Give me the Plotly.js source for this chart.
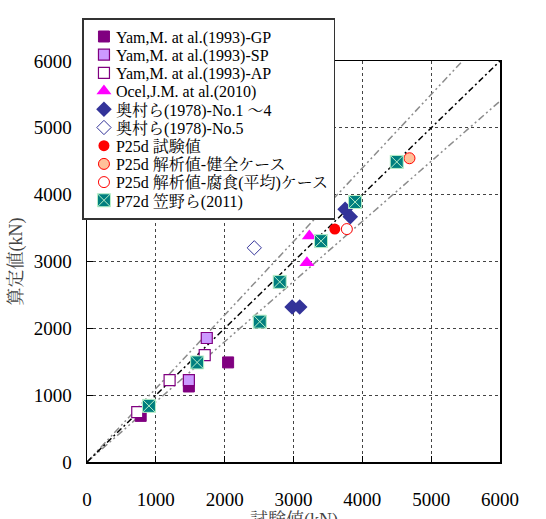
<!DOCTYPE html>
<html>
<head>
<meta charset="utf-8">
<script src="https://cdn.plot.ly/plotly-3.0.1.min.js"></script>
<style>html,body{margin:0;padding:0;background:#fff;}#chart{width:546px;height:519px;}</style>
</head>
<body>
<div id="chart"></div>
<script>
// Reference lines (1:1 and ±10%)
const lineEqX = [0, 6000], lineEqY = [0, 6000];
const lineUpX = [0, 5455], lineUpY = [0, 6000];
const lineLoX = [0, 6000], lineLoY = [0, 5400];

// Series: [test value, calculated value] in kN
const gpX = [780, 1480, 2050];
const gpY = [690, 1130, 1490];
const spX = [1480, 1740];
const spY = [1225, 1855];
const apX = [730, 1200, 1710];
const apY = [745, 1225, 1600];
const ocelX = [3230, 3195];
const ocelY = [3380, 2980];
const oku14X = [2980, 3090, 3750, 3825];
const oku14Y = [2320, 2320, 3780, 3670];
const oku5X = [2430];
const oku5Y = [3205];
const p25TestX = [3600];
const p25TestY = [3485];
const p25SoundX = [4685];
const p25SoundY = [4545];
const p25CorrX = [3775];
const p25CorrY = [3485];
const p72X = [900, 1600, 2510, 2800, 3400, 3895, 4500];
const p72Y = [840, 1490, 2100, 2695, 3305, 3890, 4490];

const names = [
  'Yam,M. at al.(1993)-GP',
  'Yam,M. at al.(1993)-SP',
  'Yam,M. at al.(1993)-AP',
  'Ocel,J.M. at al.(2010)',
  '奥村ら(1978)-No.1 ～4',
  '奥村ら(1978)-No.5',
  'P25d 試験値',
  'P25d 解析値-健全ケース',
  'P25d 解析値-腐食(平均)ケース',
  'P72d 笠野ら(2011)'
];
const xTitle = '試験値(kN)';
const yTitle = '算定値(kN)';

const serif = "Liberation Serif, Noto Serif CJK JP, Noto Sans CJK JP, serif";

const traces = [
  {x: lineUpX, y: lineUpY, mode: 'lines', showlegend: false, hoverinfo: 'skip',
   line: {color: '#8c8c8c', width: 1.5, dash: '7px,3px,2px,3px,2px,3px'}},
  {x: lineLoX, y: lineLoY, mode: 'lines', showlegend: false, hoverinfo: 'skip',
   line: {color: '#8c8c8c', width: 1.5, dash: '7px,3px,2px,3px,2px,3px'}},
  {x: lineEqX, y: lineEqY, mode: 'lines', showlegend: false, hoverinfo: 'skip',
   line: {color: '#000000', width: 1.5, dash: '6px,3px,2px,3px'}},
  {x: gpX, y: gpY, name: names[0], mode: 'markers',
   marker: {symbol: 'square', size: 11, color: '#800080', line: {color: '#800080', width: 1}}},
  {x: spX, y: spY, name: names[1], mode: 'markers',
   marker: {symbol: 'square', size: 11, color: '#cc99ff', line: {color: '#800080', width: 1.2}}},
  {x: apX, y: apY, name: names[2], mode: 'markers',
   marker: {symbol: 'square', size: 11, color: '#ffffff', line: {color: '#800080', width: 1.2}}},
  {x: ocelX, y: ocelY, name: names[3], mode: 'markers',
   marker: {symbol: 'triangle-up', size: 13, color: '#ff00ff', line: {width: 0}}},
  {x: oku14X, y: oku14Y, name: names[4], mode: 'markers',
   marker: {symbol: 'diamond', size: 12, color: '#333399', line: {width: 0}}},
  {x: oku5X, y: oku5Y, name: names[5], mode: 'markers',
   marker: {symbol: 'diamond', size: 11, color: '#ffffff', line: {color: '#333399', width: 1}}},
  {x: p25TestX, y: p25TestY, name: names[6], mode: 'markers',
   marker: {symbol: 'circle', size: 11, color: '#ff0000', line: {width: 0}}},
  {x: p25SoundX, y: p25SoundY, name: names[7], mode: 'markers',
   marker: {symbol: 'circle', size: 11, color: '#ffc09a', line: {color: '#ff0000', width: 1}}},
  {x: p25CorrX, y: p25CorrY, name: names[8], mode: 'markers',
   marker: {symbol: 'circle', size: 11, color: '#ffffff', line: {color: '#ff0000', width: 1}}},
  {x: p72X, y: p72Y, name: names[9], mode: 'markers',
   marker: {symbol: 'square-x', size: 13, color: '#007f7f', line: {color: '#b8f0c8', width: 1}}}
];

const axisCommon = {
  range: [0, 6000], dtick: 1000, tick0: 0,
  showline: true, linecolor: '#000', linewidth: 1.5, mirror: true,
  ticks: 'inside', ticklen: 6, tickcolor: '#000', tickwidth: 1,
  showgrid: true, gridcolor: '#444', griddash: 'dot', gridwidth: 1,
  zeroline: false,
  tickfont: {family: serif, size: 19, color: '#000'}
};

const layout = {
  width: 546, height: 519,
  margin: {l: 87, r: 46, t: 61, b: 57},
  paper_bgcolor: '#fff', plot_bgcolor: '#fff',
  xaxis: Object.assign({}, axisCommon, {
    ticklabelstandoff: 20
  }),
  yaxis: Object.assign({}, axisCommon, {
    ticklabelstandoff: 10,
    title: {text: yTitle, font: {family: serif, size: 18, color: '#444'}, standoff: 6}
  }),
  annotations: [{
    text: xTitle, xref: 'paper', yref: 'paper', x: 0.5, y: -0.115,
    xanchor: 'center', yanchor: 'top', showarrow: false,
    font: {family: serif, size: 18, color: '#444'}
  }],
  legend: {
    x: -0.011, y: 1.107, xanchor: 'left', yanchor: 'top',
    bgcolor: '#fff', bordercolor: '#333', borderwidth: 1.5,
    font: {family: serif, size: 16, color: '#000'},
    traceorder: 'normal'
  },
  showlegend: true
};

Plotly.newPlot('chart', traces, layout, {displayModeBar: false, staticPlot: true}).then(function (gd) {
  // tighten legend row spacing to match the reference
  const leg = gd.querySelector('.legend');
  if (!leg) return;
  const items = Array.from(leg.querySelectorAll('g.traces'));
  if (!items.length) return;
  const parse = el => {
    const m = /translate\(\s*([-\d.e]+)[\s,]+([-\d.e]+)\s*\)/.exec(el.getAttribute('transform') || '');
    return m ? [+m[1], +m[2]] : [0, 0];
  };
  const first = parse(items[0]);
  const last = parse(items[items.length - 1]);
  const step = 18.2;
  items.forEach((el, i) => {
    const p = parse(el);
    el.setAttribute('transform', 'translate(' + p[0] + ',' + (first[1] + i * step) + ')');
    const t = el.querySelector('text.legendtext');
    if (t) t.setAttribute('x', 32);
  });
  const shrink = last[1] - (first[1] + (items.length - 1) * step);
  const bg = leg.querySelector('rect.bg');
  if (bg) {
    bg.setAttribute('height', (+bg.getAttribute('height')) - shrink);
    bg.setAttribute('width', (+bg.getAttribute('width')) - 8);
  }
});
</script>
</body>
</html>
